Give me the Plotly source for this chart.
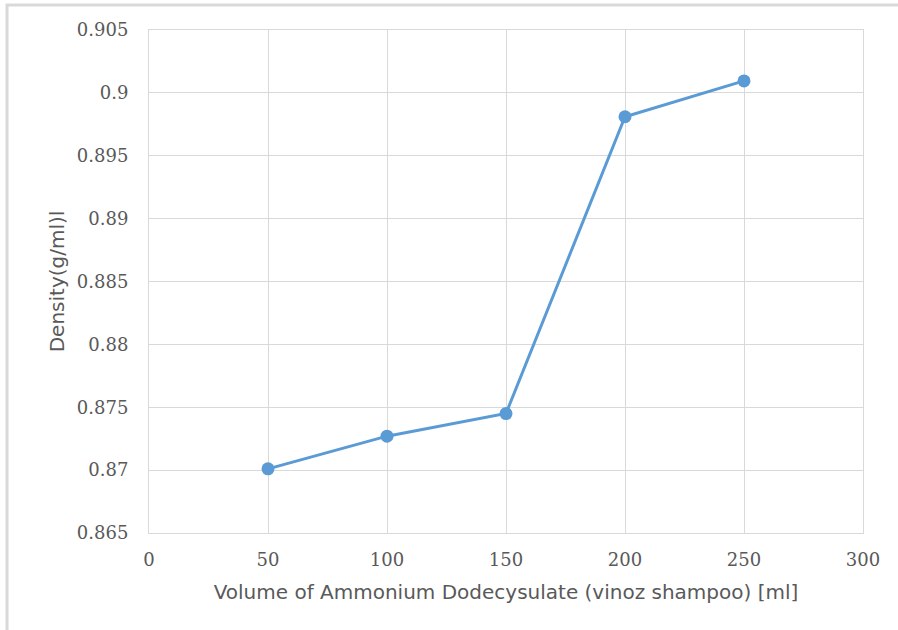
import plotly.graph_objects as go

# Volume of shampoo added (ml) and measured density (g/ml)
volume_ml = [50, 100, 150, 200, 250]
density_g_ml = [0.8701, 0.8727, 0.8745, 0.8981, 0.90095]

x_ticks = [0, 50, 100, 150, 200, 250, 300]
y_ticks = [0.865, 0.87, 0.875, 0.88, 0.885, 0.89, 0.895, 0.9, 0.905]

W, H = 898, 630
ML, MR, MT, MB = 149, 35, 30, 97
pw, ph = W - ML - MR, H - MT - MB

fig = go.Figure()
fig.add_trace(go.Scatter(
    x=volume_ml, y=density_g_ml,
    mode="lines+markers",
    line=dict(color="#5B9BD5", width=3),
    marker=dict(color="#5B9BD5", size=13),
    showlegend=False,
    cliponaxis=False,
))

grid = "#d9d9d9"
tick_font = dict(family="DejaVu Serif", size=18, color="#595959")
title_font = dict(family="DejaVu Sans", size=20, color="#595959")

fig.update_layout(
    width=W, height=H,
    margin=dict(l=ML, r=MR, t=MT, b=MB),
    paper_bgcolor="white",
    plot_bgcolor="white",
    xaxis=dict(
        range=[0, 300], tickvals=x_ticks, ticktext=[str(v) for v in x_ticks],
        showgrid=True, gridcolor=grid, gridwidth=1,
        showline=True, linecolor=grid, linewidth=1, mirror=True,
        zeroline=False, ticks="", tickfont=tick_font, ticklabelstandoff=10,
        title=dict(text="Volume of Ammonium Dodecysulate (vinoz shampoo) [ml]",
                   font=title_font, standoff=16),
    ),
    yaxis=dict(
        range=[0.865, 0.905], tickvals=y_ticks,
        ticktext=[f"{v:g}" for v in y_ticks],
        showgrid=True, gridcolor=grid, gridwidth=1,
        showline=True, linecolor=grid, linewidth=1, mirror=True,
        zeroline=False, ticks="", tickfont=tick_font, ticklabelstandoff=16,
        title=dict(text="Density(g/ml)l", font=title_font, standoff=6),
    ),
    shapes=[dict(
        type="rect", xref="paper", yref="paper",
        x0=(7 - ML) / pw, x1=(910 - ML) / pw,
        y0=(H - MB - 645) / ph, y1=(H - MB - 5) / ph,
        line=dict(color="#d9d9d9", width=3), fillcolor="rgba(0,0,0,0)",
        layer="below",
    )],
)

fig.write_html("out.html")
